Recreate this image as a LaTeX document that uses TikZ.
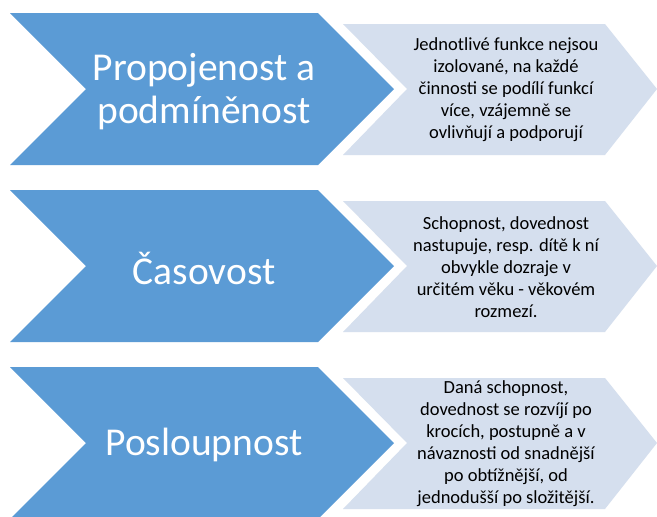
\documentclass[tikz,border=0pt]{standalone}
\usepackage{fontspec}
\setmainfont{Carlito}
\definecolor{chevblue}{HTML}{5B9BD5}
\definecolor{chevlight}{HTML}{D5DFEE}
\tikzset{
  bigtext/.style={text=white, align=center, inner sep=0pt, font=\fontsize{39.5}{43}\selectfont},
  smalltext/.style={text=black, align=center, inner sep=0pt, font=\fontsize{18.5}{22}\selectfont},
}
\newcommand{\rowshapes}[1]{%
  \fill[chevlight] (343,#1-65) -- (605,#1-65) -- (657,#1) -- (605,#1+66) -- (343,#1+66) -- (407,#1) -- cycle;
  \fill[chevblue] (10,#1-76) -- (318,#1-76) -- (394,#1) -- (318,#1+76) -- (10,#1+76) -- (86,#1) -- cycle;
}
\begin{document}
\begin{tikzpicture}[x=1pt,y=-1pt]
\useasboundingbox[fill=white] (0,0) rectangle (657,517);
\rowshapes{89}
\rowshapes{266}
\rowshapes{443}
\node[bigtext] (t1) at (204,92) {Propojenost a\\podmíněnost};
\node[bigtext] (t2) at (204,268) {Časovost};
\node[bigtext] (t3) at (204,445) {Posloupnost};
\node[smalltext] (d1) at (506,90) {Jednotlivé funkce nejsou\\izolované, na každé\\činnosti se podílí funkcí\\více, vzájemně se\\ovlivňují a podporují};
\node[smalltext] (d2) at (506,267) {Schopnost, dovednost\\nastupuje, resp. dítě k ní\\obvykle dozraje v\\určitém věku - věkovém\\rozmezí.};
\node[smalltext] (d3) at (506,444) {Daná schopnost,\\dovednost se rozvíjí po\\krocích, postupně a v\\návaznosti od snadnější\\po obtížnější, od\\jednodušší po složitější.};
\end{tikzpicture}
\end{document}
